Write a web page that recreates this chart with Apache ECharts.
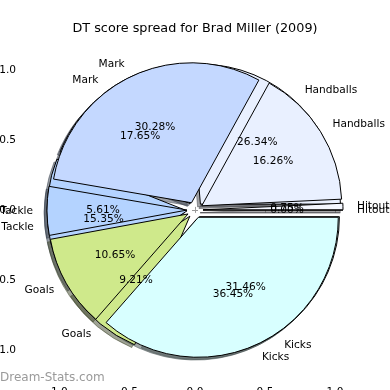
<!DOCTYPE html>
<html><head><meta charset="utf-8">
<script src="https://cdn.jsdelivr.net/npm/echarts@6/dist/echarts.min.js"></script>
<style>html,body{margin:0;padding:0;background:#fff}#c{width:390px;height:390px}</style>
</head><body><div id="c"></div>
<script>
// Data
const categories = ['Hitouts', 'Handballs', 'Mark', 'Tackle', 'Goals', 'Kicks'];
const spreadA = [0.00, 26.34, 17.65, 15.35, 9.21, 31.46];
const spreadB = [0.75, 16.26, 30.28, 5.61, 10.65, 36.45];
const tickValues = [-1, -0.5, 0, 0.5, 1];
const sliceColors = ['#f4f7ff', '#e9f0ff', '#c4d8ff', '#b4d3ff', '#cfe98b', '#d8ffff'];
const titleText = 'DT score spread for Brad Miller (2009)';
const watermark = 'Dream-Stats.com';

const FONT = 'DejaVu Sans';
const FS = 10.6;
const CX = 195, CY = 210, R = 140, EXPLODE = 8, SH = 2.8;

function shadowColor(hex) {
  const n = parseInt(hex.slice(1), 16);
  const r = (n >> 16) & 255, g = (n >> 8) & 255, b = n & 255;
  return 'rgba(' + Math.round(r * 0.3) + ',' + Math.round(g * 0.3) + ',' + Math.round(b * 0.3) + ',0.5)';
}

function base(center) {
  return {
    type: 'pie', center: center, radius: [0, R], startAngle: 0, clockwise: false,
    silent: true, animation: false, avoidLabelOverlap: false, minShowLabelAngle: 0,
    labelLayout: { hideOverlap: false, moveOverlap: null },
    emphasis: { disabled: true }, selectedMode: 'multiple', selectedOffset: EXPLODE
  };
}

function wedgeSeries(vals, shadow) {
  return Object.assign(base(shadow ? [CX - SH, CY + SH] : [CX, CY]), {
    label: { show: false }, labelLine: { show: false },
    data: vals.map((v, i) => {
      const c = shadow ? shadowColor(sliceColors[i]) : sliceColors[i];
      return {
        name: categories[i], value: v, selected: true,
        itemStyle: { color: c, borderColor: shadow ? c : '#000', borderWidth: 1 }
      };
    })
  });
}

function nameLabels(vals) {
  return Object.assign(base([CX, CY]), {
    selectedMode: false,
    itemStyle: { color: 'rgba(0,0,0,0)', borderWidth: 0 },
    label: { show: true, position: 'outside', alignTo: 'none', distanceToLabelLine: 0,
      overflow: 'none', bleedMargin: 0,
      color: '#000', fontFamily: FONT, fontSize: FS, formatter: p => p.name },
    labelLine: { show: false, length: R * 0.1 + EXPLODE, length2: 0 },
    data: vals.map((v, i) => ({ name: categories[i], value: v }))
  });
}

function pctLabels(vals) {
  return Object.assign(base([CX, CY]), {
    selectedMode: false,
    radius: [38, R],
    itemStyle: { color: 'rgba(0,0,0,0)', borderWidth: 0 },
    label: { show: true, position: 'inside', color: '#000', fontFamily: FONT, fontSize: FS,
      overflow: 'none', formatter: p => p.value.toFixed(2) + '%' },
    labelLine: { show: false },
    data: vals.map((v, i) => ({ name: categories[i], value: v }))
  });
}

const tickFmt = v => (v < 0 ? '\u2212' : '') + Math.abs(v).toFixed(1);
const tickStyle = { show: true, inside: true, length: 3, customValues: tickValues,
  lineStyle: { color: '#999', width: 1 } };

const chart = echarts.init(document.getElementById('c'), null, { renderer: 'canvas' });
chart.setOption({
  animation: false,
  backgroundColor: '#fff',
  title: { text: titleText, left: 'center', top: 17,
    textStyle: { fontFamily: FONT, fontSize: 12.8, fontWeight: 'normal', color: '#000' } },
  grid: { left: 20, top: 34, width: 351, height: 341, containLabel: false, outerBoundsMode: 'none' },
  xAxis: [
    { type: 'value', position: 'bottom', min: -1.25, max: 1.257,
      axisLine: { show: false }, splitLine: { show: false }, axisTick: tickStyle,
      axisLabel: { customValues: tickValues, margin: 12, color: '#000', fontFamily: FONT, fontSize: FS,
        formatter: tickFmt } },
    { type: 'value', position: 'top', min: -1.25, max: 1.257,
      axisLine: { show: false }, splitLine: { show: false }, axisTick: tickStyle,
      axisLabel: { show: false } }
  ],
  yAxis: [
    { type: 'value', position: 'left', min: -1.18, max: 1.257,
      axisLine: { show: false }, splitLine: { show: false }, axisTick: tickStyle,
      axisLabel: { customValues: tickValues, margin: 4, color: '#000', fontFamily: FONT, fontSize: FS,
        formatter: tickFmt } },
    { type: 'value', position: 'right', min: -1.18, max: 1.257,
      axisLine: { show: false }, splitLine: { show: false }, axisTick: tickStyle,
      axisLabel: { show: false } }
  ],
  graphic: [
    { type: 'text', left: 0, top: 372, silent: true,
      style: { text: watermark, fontFamily: FONT, fontSize: 12, fill: '#9a9a9a' } }
  ],
  series: [
    wedgeSeries(spreadA, true),
    wedgeSeries(spreadB, true),
    wedgeSeries(spreadA, false),
    wedgeSeries(spreadB, false),
    nameLabels(spreadA),
    nameLabels(spreadB),
    pctLabels(spreadA),
    pctLabels(spreadB)
  ]
});
</script></body></html>
